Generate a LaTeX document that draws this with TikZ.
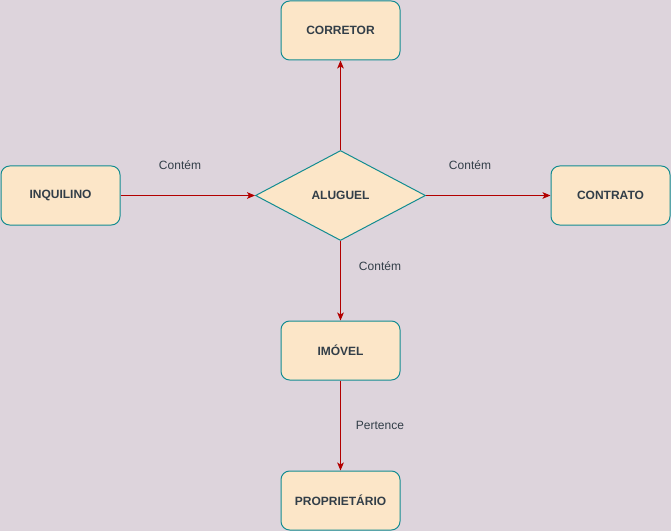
\documentclass[tikz,border=0pt]{standalone}
\usepackage{fontspec}
\setmainfont{Liberation Sans}
\usetikzlibrary{shapes.geometric,arrows.meta}
\definecolor{bg}{RGB}{221,212,220}
\definecolor{boxfill}{RGB}{252,230,200}
\definecolor{boxline}{RGB}{18,140,145}
\definecolor{arr}{RGB}{178,0,0}
\definecolor{txt}{RGB}{50,62,72}
\tikzset{
  entity/.style={draw=boxline, fill=boxfill, line width=0.75pt, rounded corners=6.5pt,
    minimum width=89.25pt, minimum height=44.25pt, inner sep=0pt,
    font=\bfseries\fontsize{9pt}{10pt}\selectfont, text=txt},
  rel/.style={draw=boxline, fill=boxfill, line width=0.75pt, diamond, aspect=1.889,
    minimum width=127.5pt, minimum height=67.5pt, inner sep=0pt,
    font=\bfseries\fontsize{9pt}{10pt}\selectfont, text=txt},
  conn/.style={draw=arr, line width=0.75pt, -{Stealth[length=6pt,width=5pt,inset=1.5pt]}},
  lbl/.style={font=\fontsize{9pt}{10pt}\selectfont, text=txt, inner sep=0pt}
}
\begin{document}
\begin{tikzpicture}[x=0.75pt,y=-0.75pt]
\fill[bg] (0,0) rectangle (671,531);
\useasboundingbox (0,0) rectangle (671,531);
\node[entity] (corretor) at (340.5,30.5) {CORRETOR};
\node[entity] (inquilino) at (60.5,195.5) {INQUILINO};
\node[entity] (contrato) at (610.5,195.5) {CONTRATO};
\node[rel] (aluguel) at (340.5,195.5) {ALUGUEL};
\node[entity] (imovel) at (340.5,350.5) {IMÓVEL};
\node[entity] (prop) at (340.5,500.5) {PROPRIETÁRIO};
\draw[conn] (inquilino) -- (aluguel);
\draw[conn] (aluguel) -- (contrato);
\draw[conn] (aluguel) -- (corretor);
\draw[conn] (aluguel) -- (imovel);
\draw[conn] (imovel) -- (prop);
\node[lbl] (l1) at (180,165) {Contém};
\node[lbl] (l2) at (470,165) {Contém};
\node[lbl] (l3) at (380,266) {Contém};
\node[lbl] (l4) at (380,425) {Pertence};
\end{tikzpicture}
\end{document}
